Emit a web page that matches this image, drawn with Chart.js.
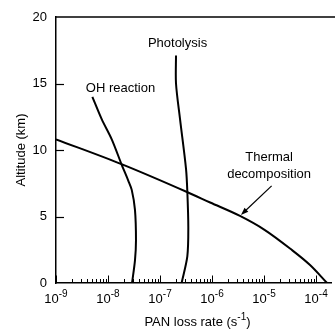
<!DOCTYPE html>
<html>
<head>
<meta charset="utf-8">
<script src="https://cdn.jsdelivr.net/npm/chart.js@4"></script>
<style>
  body { margin: 0; background: #fff; }
  #wrap { width: 335px; height: 331px; }
</style>
</head>
<body>
<div id="wrap"><canvas id="myChart"></canvas></div>
<script>
// altitude (km) and PAN loss rate (s-1)
const altOH = [14, 12.3, 10.8, 8.9, 7.7, 7, 5.5, 3.2, 1.7, 0];
const rateOH = [5.0e-9, 7.6e-9, 1.18e-8, 1.83e-8, 2.45e-8, 2.86e-8, 3.3e-8, 3.45e-8, 3.3e-8, 2.9e-8];

const altPhot = [17.1, 15, 12.3, 8.6, 6.9, 4.2, 2, 0];
const ratePhot = [2.03e-7, 2.03e-7, 2.43e-7, 3.16e-7, 3.35e-7, 3.5e-7, 3.35e-7, 2.6e-7];

const altTherm = [10.8, 8.9, 6.84, 6.05, 5.04, 3.98, 2.59, 1.35, 0];
const rateTherm = [1e-9, 1.92e-8, 3.3e-7, 9.2e-7, 3.45e-6, 1.04e-5, 3.16e-5, 7.67e-5, 1.63e-4];

const yTicks = [0, 5, 10, 15, 20];
const xDecades = [-9, -8, -7, -6, -5, -4];

const labels = [
  { text: "Photolysis", x: 2.17e-7, y: 18.05 },
  { text: "OH reaction", x: 1.74e-8, y: 14.62 },
  { text: "Thermal", x: 1.25e-5, y: 9.44 },
  { text: "decomposition", x: 1.25e-5, y: 8.16 }
];
const arrow = { from: [1.4e-5, 7.3], to: [3.6e-6, 5.12] };

const FONT = "'Liberation Sans', Arial, sans-serif";

function toPoints(xs, ys) {
  return xs.map((v, i) => ({ x: v, y: ys[i] }));
}

function curve(label, xs, ys, extra) {
  return Object.assign({
    label,
    data: toPoints(xs, ys),
    showLine: true,
    borderColor: "#000",
    borderWidth: 2,
    pointRadius: 0,
    tension: 0.3,
    fill: false
  }, extra || {});
}

// text with a raised exponent, centred on cx
function drawPow(ctx, base, exp, tail, cx, baseline, size, supSize) {
  ctx.font = size + "px " + FONT;
  const w1 = ctx.measureText(base).width;
  const w3 = ctx.measureText(tail).width;
  ctx.font = supSize + "px " + FONT;
  const w2 = ctx.measureText(exp).width;
  let x = cx - (w1 + w2 + w3) / 2;
  ctx.textAlign = "left";
  ctx.textBaseline = "alphabetic";
  ctx.font = size + "px " + FONT;
  ctx.fillText(base, x, baseline);
  x += w1;
  ctx.font = supSize + "px " + FONT;
  ctx.fillText(exp, x, baseline - 6);
  x += w2;
  ctx.font = size + "px " + FONT;
  ctx.fillText(tail, x, baseline);
}

const extras = {
  id: "extras",
  afterDraw(chart) {
    const { ctx, chartArea, scales } = chart;
    const xs = scales.x, ys = scales.y;
    ctx.save();
    ctx.strokeStyle = "#000";
    ctx.fillStyle = "#000";

    // top frame line
    ctx.lineWidth = 1.5;
    ctx.beginPath();
    ctx.moveTo(chartArea.left, chartArea.top);
    ctx.lineTo(chart.width, chartArea.top);
    ctx.stroke();

    // inward ticks on the bottom axis
    ctx.lineWidth = 1;
    xDecades.forEach(e => {
      for (let m = 2; m <= 10; m++) {
        const v = m * Math.pow(10, e - 1);
        if (v < xs.min || v > xs.max) continue;
        const px = Math.round(xs.getPixelForValue(v)) + 0.5;
        const len = m === 10 ? 7.5 : 4;
        ctx.beginPath();
        ctx.moveTo(px, chartArea.bottom);
        ctx.lineTo(px, chartArea.bottom - len);
        ctx.stroke();
      }
    });

    // decade labels 10^n
    xs.ticks.forEach(t => {
      const e = Math.round(Math.log10(t.value));
      drawPow(ctx, "10", String(e), "", xs.getPixelForValue(t.value), chartArea.bottom + 20, 13, 10);
    });

    // axis title with superscript
    drawPow(ctx, "PAN loss rate (s", "-1", ")", (chartArea.left + chartArea.right) / 2 + 4, 326, 13, 10);

    // inward ticks on the left axis
    ctx.lineWidth = 1.2;
    [5, 10, 15].forEach(v => {
      const py = Math.round(ys.getPixelForValue(v)) + 0.5;
      ctx.beginPath();
      ctx.moveTo(chartArea.left, py);
      ctx.lineTo(chartArea.left + 8, py);
      ctx.stroke();
    });

    // arrow to the thermal curve
    const ax0 = xs.getPixelForValue(arrow.from[0]), ay0 = ys.getPixelForValue(arrow.from[1]);
    const ax1 = xs.getPixelForValue(arrow.to[0]), ay1 = ys.getPixelForValue(arrow.to[1]);
    const ang = Math.atan2(ay1 - ay0, ax1 - ax0);
    ctx.lineWidth = 1.2;
    ctx.beginPath();
    ctx.moveTo(ax0, ay0);
    ctx.lineTo(ax1 - 5 * Math.cos(ang), ay1 - 5 * Math.sin(ang));
    ctx.stroke();
    ctx.beginPath();
    ctx.moveTo(ax1, ay1);
    ctx.lineTo(ax1 - 8 * Math.cos(ang - 0.35), ay1 - 8 * Math.sin(ang - 0.35));
    ctx.lineTo(ax1 - 8 * Math.cos(ang + 0.35), ay1 - 8 * Math.sin(ang + 0.35));
    ctx.closePath();
    ctx.fill();

    // curve labels
    ctx.font = "13px " + FONT;
    ctx.textAlign = "center";
    ctx.textBaseline = "middle";
    labels.forEach(l => {
      ctx.fillText(l.text, xs.getPixelForValue(l.x), ys.getPixelForValue(l.y));
    });
    ctx.restore();
  }
};

const config = {
  type: "scatter",
  data: {
    datasets: [
      curve("OH reaction", rateOH, altOH),
      curve("Photolysis", ratePhot, altPhot),
      curve("Thermal decomposition", rateTherm, altTherm, { cubicInterpolationMode: "monotone" })
    ]
  },
  options: {
    responsive: true,
    maintainAspectRatio: false,
    animation: false,
    layout: { padding: { top: 17, right: 4, left: 0, bottom: 0 } },
    plugins: { legend: { display: false }, tooltip: { enabled: false } },
    scales: {
      x: {
        type: "logarithmic",
        min: 1e-9,
        max: 1.94e-4,
        grid: { display: false, drawTicks: false },
        border: { display: true, color: "#000", width: 1.5 },
        afterBuildTicks(scale) {
          scale.ticks = xDecades.map(e => ({ value: Math.pow(10, e) }));
        },
        afterFit(scale) { scale.height = 48; },
        ticks: { display: false },
        title: { display: false }
      },
      y: {
        min: 0,
        max: 20,
        grid: { display: false, drawTicks: false },
        border: { display: true, color: "#000", width: 1.5 },
        afterBuildTicks(scale) {
          scale.ticks = yTicks.map(v => ({ value: v }));
        },
        afterFit(scale) { scale.width = 56; },
        ticks: {
          color: "#000",
          font: { family: FONT, size: 13 },
          padding: 9
        },
        title: {
          display: true,
          text: "Altitude (km)",
          color: "#000",
          font: { family: FONT, size: 13 },
          padding: { top: 14, bottom: 0 }
        }
      }
    }
  },
  plugins: [extras]
};

new Chart(document.getElementById("myChart"), config);
</script>
</body>
</html>
